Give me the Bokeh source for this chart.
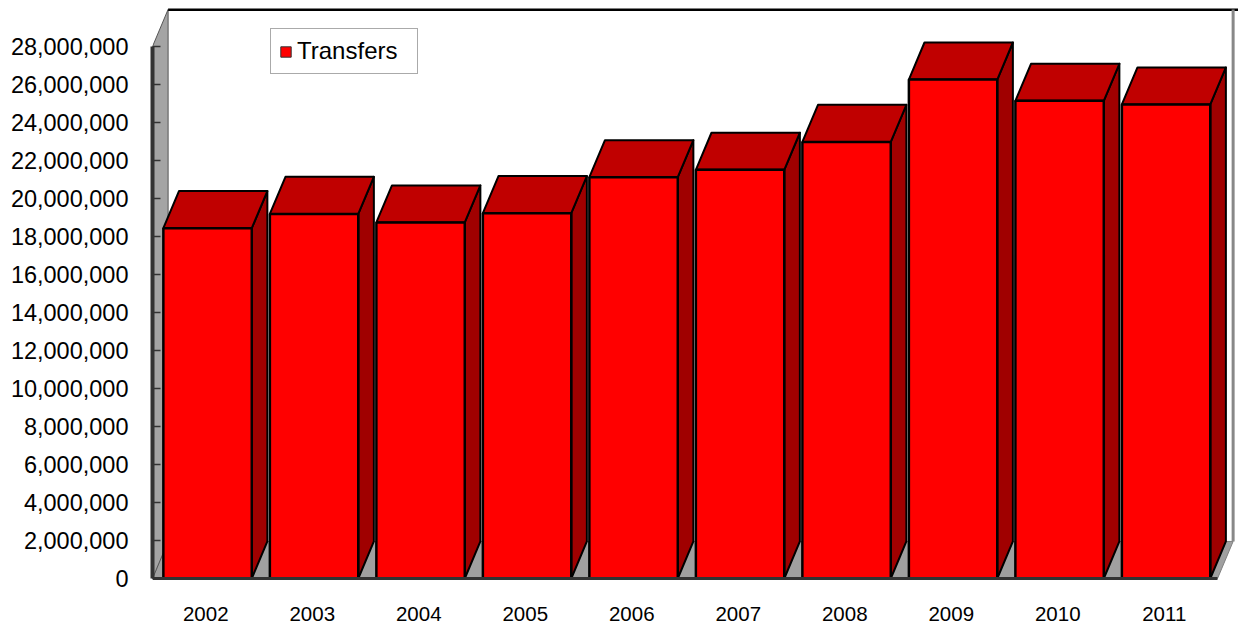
import numpy as np
from bokeh.plotting import figure
from bokeh.models import Range1d, FixedTicker, NumeralTickFormatter, Legend, LegendItem
from bokeh.embed import file_html
from bokeh.resources import INLINE

# ---- data ----
years = ["2002", "2003", "2004", "2005", "2006", "2007", "2008", "2009", "2010", "2011"]
transfers = [18.44e6, 19.19e6, 18.74e6, 19.23e6, 21.12e6, 21.51e6, 22.98e6, 26.26e6, 25.14e6, 24.95e6]
y_ticks = [0, 2e6, 4e6, 6e6, 8e6, 10e6, 12e6, 14e6, 16e6, 18e6, 20e6, 22e6, 24e6, 26e6, 28e6]
series_name = "Transfers"

# ---- style ----
DX = 0.1465        # depth offset in category units
DY = 1.95e6        # depth offset in value units
BAR_W = 0.83
OFF = 0.017
FONT = "Liberation Sans"
N = len(years)
y_max = y_ticks[-1]

p = figure(width=1238, height=627, output_backend="svg", toolbar_location=None,
           x_range=Range1d(-0.5, 9.697), y_range=Range1d(-0.105e6, 30e6),
           min_border_left=152, min_border_right=0, min_border_top=8, min_border_bottom=47)
p.outline_line_color = None
p.xgrid.visible = False
p.ygrid.visible = False
p.background_fill_color = "white"
p.border_fill_color = "white"

# floor
p.patch(x=[-0.5, N - 0.5, N - 0.5 + DX, -0.5 + DX], y=[0, 0, DY, DY],
        fill_color="#A0A0A0", line_color="#808080", line_width=1)
# left wall
p.patch(x=[-0.5, -0.5 + DX, -0.5 + DX, -0.5], y=[0, DY, y_max + DY, y_max],
        fill_color="#A4A4A4", line_color="#555555", line_width=1)
# back wall top edge and right edge
p.segment(x0=[-0.5 + DX], y0=[y_max + DY], x1=[9.697], y1=[y_max + DY], line_color="black", line_width=3)
p.segment(x0=[N - 0.5 + DX], y0=[DY], x1=[N - 0.5 + DX], y1=[y_max + DY], line_color="#888888", line_width=3)

xc = np.arange(N) + OFF
L = xc - BAR_W / 2
R = xc + BAR_W / 2
v = np.array(transfers)

side_xs = [[r, r + DX, r + DX, r] for r in R]
side_ys = [[0, DY, h + DY, h] for h in v]
top_xs = [[l, r, r + DX, l + DX] for l, r in zip(L, R)]
top_ys = [[h, h, h + DY, h + DY] for h in v]

p.patches(side_xs, side_ys, fill_color="#A00000", line_color="black", line_width=2, line_join="round")
p.patches(top_xs, top_ys, fill_color="#C00000", line_color="black", line_width=2, line_join="round")
front = p.quad(left=L, right=R, bottom=0, top=v, fill_color="#FF0000", line_color="black", line_width=2.5)

# legend key (thin outline)
key = p.quad(left=[0], right=[0], bottom=[0], top=[0], fill_color="#FF0000",
             line_color="#333333", line_width=1)

# floor front edge
p.segment(x0=[-0.5], y0=[0], x1=[N - 0.5], y1=[0], line_color="#333333", line_width=3)

# axes
p.yaxis.ticker = FixedTicker(ticks=y_ticks)
p.yaxis.formatter = NumeralTickFormatter(format="0,0")
p.yaxis.bounds = (0, y_max)
p.yaxis.axis_line_color = "#333333"
p.yaxis.axis_line_width = 4
p.yaxis.major_tick_in = 8
p.yaxis.major_tick_out = 0
p.yaxis.minor_tick_line_color = None
p.yaxis.major_tick_line_color = "#333333"
p.yaxis.major_tick_line_width = 1.5
p.yaxis.major_label_standoff = 24
p.yaxis.major_label_text_font = FONT
p.yaxis.major_label_text_font_size = "23.5px"
p.yaxis.major_label_text_color = "black"

p.xaxis.ticker = FixedTicker(ticks=list(range(N)))
p.xaxis.major_label_overrides = {i: y for i, y in enumerate(years)}
p.xaxis.axis_line_color = None
p.xaxis.major_tick_line_color = None
p.xaxis.minor_tick_line_color = None
p.xaxis.major_label_standoff = 20
p.xaxis.major_label_text_font = FONT
p.xaxis.major_label_text_font_size = "20.5px"
p.xaxis.major_label_text_color = "black"

legend = Legend(items=[LegendItem(label=series_name, renderers=[key])],
                location=(118, 506), padding=8, margin=0, spacing=0,
                glyph_width=13, glyph_height=13, label_standoff=5, label_width=112, label_height=20,
                border_line_color="#555555", border_line_width=1,
                background_fill_color="white", background_fill_alpha=1,
                label_text_font=FONT, label_text_font_size="24px", label_text_color="black")
p.add_layout(legend, "center")

open("out.html", "w").write(file_html(p, INLINE))
